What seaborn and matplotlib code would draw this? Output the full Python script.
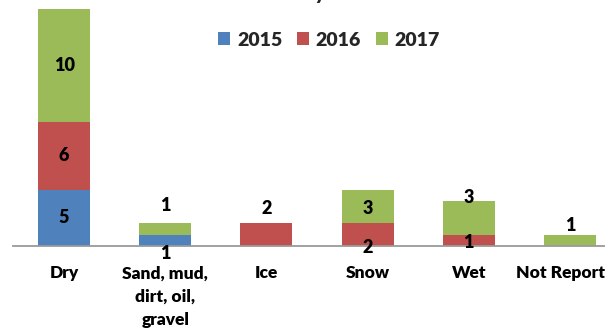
import matplotlib
matplotlib.use("Agg")
import matplotlib.pyplot as plt
import seaborn as sns
import pandas as pd

# Crash counts by road surface condition and year
categories = ["Dry", "Sand, mud,\ndirt, oil,\ngravel", "Ice", "Snow", "Wet", "Not Reported"]
years = ["2015", "2016", "2017"]
counts_2015 = [5, 1, 0, 0, 0, 0]
counts_2016 = [6, 0, 2, 2, 1, 0]
counts_2017 = [10, 1, 0, 3, 3, 1]

colors = {"2015": "#4F81BD", "2016": "#C0504D", "2017": "#9BBB59"}

# Nudges (in data units) for value labels that sit off their segment centre
label_nudge = {
    (1, "2015"): -1.2, (1, "2017"): 2.1,
    (2, "2016"): 2.3,
    (3, "2016"): -1.1, (3, "2017"): -0.2,
    (4, "2016"): -0.2, (4, "2017"): 1.8,
    (5, "2017"): 1.3,
}

sns.set_style("white")
plt.rcParams["font.family"] = ["Lato", "DejaVu Sans"]

df = pd.DataFrame({"category": categories, "2015": counts_2015,
                   "2016": counts_2016, "2017": counts_2017})
df["c2015"] = df["2015"]
df["c2016"] = df["c2015"] + df["2016"]
df["c2017"] = df["c2016"] + df["2017"]

W, H = 605, 328
fig = plt.figure(figsize=(W / 100, H / 100), dpi=100)
unit_px = 11.3
ymax = 22
ax = fig.add_axes([13.5 / W, 82 / H, 607 / W, ymax * unit_px / H])

# Stacked bars drawn as overlapping cumulative totals
for yr in reversed(years):
    sns.barplot(data=df, x="category", y="c" + yr, order=categories,
                color=colors[yr], saturation=1, width=0.515, linewidth=0,
                label=yr, ax=ax)
if ax.get_legend() is not None:
    ax.get_legend().remove()

ax.set_xlim(-0.5, 5.5)
ax.set_ylim(0, ymax)
ax.set_xlabel("")
ax.set_ylabel("")
ax.set_yticks([])
for s in ["top", "left", "right"]:
    ax.spines[s].set_visible(False)
ax.spines["bottom"].set_color("#9A9A9A")
ax.spines["bottom"].set_linewidth(1.3)
ax.tick_params(axis="x", length=0, pad=14)
ax.set_xticks(range(len(categories)))
ax.set_xticklabels(categories, fontsize=12.5, fontweight="heavy",
                   linespacing=1.55, color="black")

# Value labels
bottoms = [0] * len(categories)
for yr, vals in zip(years, [counts_2015, counts_2016, counts_2017]):
    for i, v in enumerate(vals):
        if v > 0:
            y = bottoms[i] + v / 2 + label_nudge.get((i, yr), 0)
            ax.text(i, y, str(v), ha="center", va="center", fontsize=13,
                    fontweight="heavy", color="black", clip_on=False)
        bottoms[i] += v

# Legend in 2015, 2016, 2017 order
handles, labels = ax.get_legend_handles_labels()
order = [labels.index(y) for y in years]
fig.legend([handles[k] for k in order], years, loc="center",
           bbox_to_anchor=(329 / W, 1 - 40 / H), ncol=3, frameon=False,
           prop={"weight": "heavy", "size": 14}, handlelength=0.62,
           handleheight=0.62, handletextpad=0.35, columnspacing=0.75)

# Title sitting at the top edge
fig.text(230 / W, 1.0, "Crashes by Surface Condition", ha="left",
         va="baseline", fontsize=14, fontweight="heavy")

fig.savefig("out.png", dpi=100)
